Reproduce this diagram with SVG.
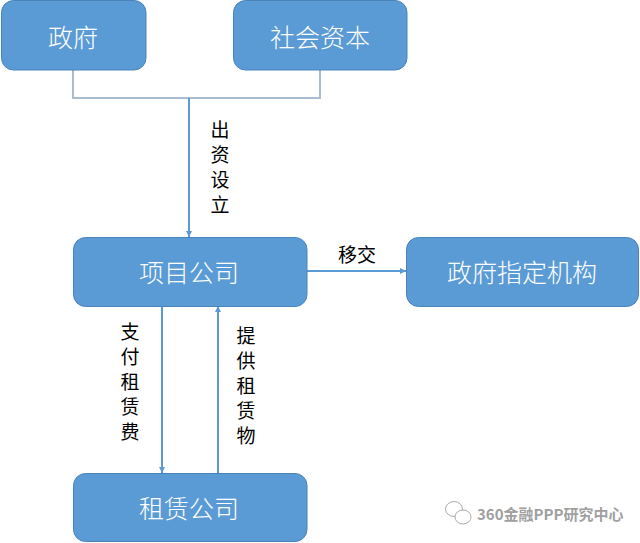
<svg xmlns="http://www.w3.org/2000/svg" width="640" height="543" viewBox="0 0 640 543">
<style>
.box{fill:#5b9bd5;stroke:#4a83b8;stroke-width:1}
.nt{font-family:"Noto Sans CJK SC","Noto Sans",sans-serif;font-weight:300;font-size:25px;fill:#ffffff;text-anchor:middle;dominant-baseline:central}
.lb{font-family:"Noto Sans CJK SC","Noto Sans",sans-serif;font-size:19px;fill:#000000;text-anchor:middle;dominant-baseline:central}
.vl{font-family:"Noto Sans CJK SC","Noto Sans",sans-serif;font-size:19px;fill:#000000;text-anchor:middle;writing-mode:vertical-rl;letter-spacing:6px}
.ln{fill:none;stroke:#5b9bd5;stroke-width:2}
.lg{fill:none;stroke:#a9bcd0;stroke-width:2}
.wm{font-family:"Noto Sans CJK SC","Noto Sans",sans-serif;font-size:15px;font-weight:bold;fill:#a0a0a0;dominant-baseline:central}
</style>
<defs>
<marker id="ah" viewBox="0 0 10 10" refX="10" refY="5" markerWidth="6" markerHeight="6" markerUnits="userSpaceOnUse" orient="auto">
<path d="M0,0 L10,5 L0,10 z" fill="#5b9bd5"/>
</marker>
</defs>
<g id="connectors">
<path class="lg" d="M73,70 V98 H320 V70"/>
<path class="ln" d="M189,98 V237" marker-end="url(#ah)"/>
<path class="ln" d="M307,271 H406" marker-end="url(#ah)"/>
<path class="ln" d="M162,306 V473" marker-end="url(#ah)"/>
<path class="ln" d="M218,473 V306" marker-end="url(#ah)"/>
<text class="vl" x="220" y="170">出资设立</text>
<text class="lb" x="357" y="253">移交</text>
<text class="vl" x="130" y="385">支付租赁费</text>
<text class="vl" x="246" y="389">提供租赁物</text>
</g>
<g id="node-zhengfu">
<rect class="box" x="1.5" y="0.5" width="144.5" height="69.5" rx="12"/>
<text class="nt" x="73" y="36">政府</text>
</g>
<g id="node-shehui">
<rect class="box" x="233.5" y="0.5" width="173.5" height="69.5" rx="12"/>
<text class="nt" x="320" y="36">社会资本</text>
</g>
<g id="node-xiangmu">
<rect class="box" x="73.5" y="237.5" width="233.5" height="69" rx="12"/>
<text class="nt" x="189" y="271">项目公司</text>
</g>
<g id="node-zhiding">
<rect class="box" x="406.5" y="237.5" width="232" height="69" rx="12"/>
<text class="nt" x="522" y="271">政府指定机构</text>
</g>
<g id="node-zulin">
<rect class="box" x="73.5" y="473.5" width="233.5" height="68" rx="12"/>
<text class="nt" x="189" y="507">租赁公司</text>
</g>
<g id="watermark">
<ellipse cx="454" cy="509" rx="8.5" ry="7.5" fill="#ffffff" stroke="#aaaaaa" stroke-width="1"/>
<ellipse cx="463" cy="517" rx="8" ry="7" fill="#ffffff" stroke="#aaaaaa" stroke-width="1"/>
<text class="wm" x="477" y="513">360金融PPP研究中心</text>
</g>
</svg>
